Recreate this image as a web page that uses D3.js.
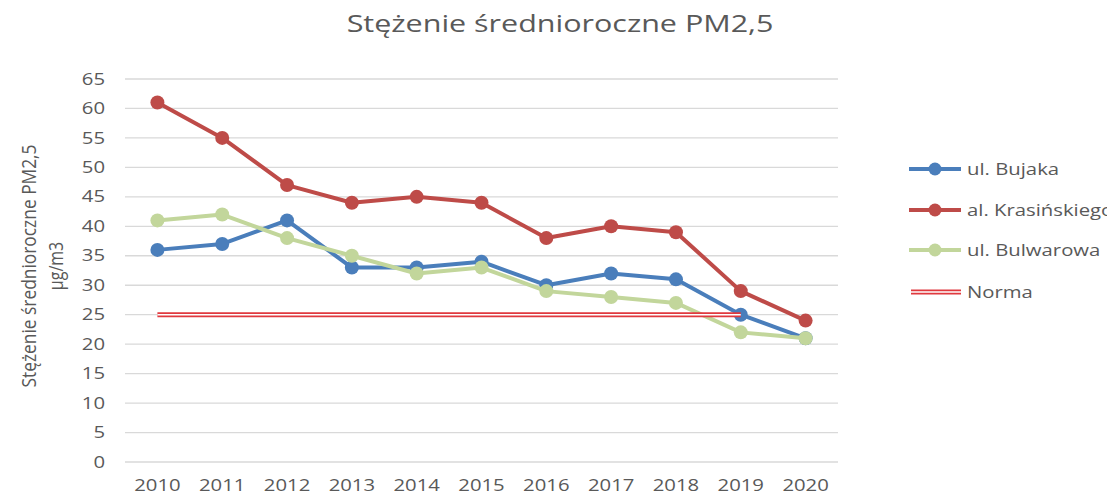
<!DOCTYPE html>
<html><head><meta charset="utf-8">
<script src="https://cdn.jsdelivr.net/npm/d3@7"></script>
<style>body{margin:0;background:#fff;overflow:hidden}</style>
</head><body>
<svg id="c" width="1107" height="493"></svg>
<script>
const years = ["2010","2011","2012","2013","2014","2015","2016","2017","2018","2019","2020"];
const bujaka = [36,37,41,33,33,34,30,32,31,25,21];
const krasinskiego = [61,55,47,44,45,44,38,40,39,29,24];
const bulwarowa = [41,42,38,35,32,33,29,28,27,22,21];
const norma = [25,25,25,25,25,25,25,25,25,25,null];
const yTicks = [0,5,10,15,20,25,30,35,40,45,50,55,60,65];
const seriesNames = ["ul. Bujaka","al. Krasińskiego","ul. Bulwarowa","Norma"];

const SX = 1.27; // horizontal stretch of the original text
const svg = d3.select("#c");
const txt = "#595959";
const x = d3.scaleBand().domain(years).range([125,838]);
const y = d3.scaleLinear().domain([0,65]).range([462,79]);
const cx = d => x(d) + x.bandwidth()/2;

// gridlines
svg.append("g").selectAll("line").data(yTicks).join("line")
  .attr("x1",125).attr("x2",838).attr("y1",d=>y(d)).attr("y2",d=>y(d))
  .attr("stroke","#d9d9d9").attr("stroke-width",1.3);

const yAxis = svg.append("g").attr("transform","translate(125,0)")
  .call(d3.axisLeft(y).tickValues(yTicks).tickSize(0).tickPadding(20));
yAxis.select(".domain").remove();
yAxis.selectAll("text").attr("fill",txt).style("font-family","Open Sans").style("font-size","16px")
  .attr("x",0).attr("transform",`translate(-20,0) scale(${SX},1)`);

const xAxis = svg.append("g").attr("transform","translate(0,462)")
  .call(d3.axisBottom(x).tickSize(0).tickPadding(18));
xAxis.select(".domain").remove();
xAxis.selectAll("text").attr("fill",txt).style("font-family","Open Sans").style("font-size","16px")
  .attr("transform",`scale(${SX},1)`);

const series = [
  {name:seriesNames[0], vals:bujaka, color:"#4A7EBB"},
  {name:seriesNames[1], vals:krasinskiego, color:"#BE4B48"},
  {name:seriesNames[2], vals:bulwarowa, color:"#C2D69B"}
];
const line = d3.line().defined(d=>d[1]!=null).x(d=>cx(d[0])).y(d=>y(d[1]));

series.forEach(s=>{
  const pts = years.map((yr,i)=>[yr,s.vals[i]]);
  svg.append("path").attr("d",line(pts)).attr("fill","none").attr("stroke",s.color).attr("stroke-width",4).attr("stroke-linejoin","round");
  svg.append("g").selectAll("circle").data(pts).join("circle")
    .attr("cx",d=>cx(d[0])).attr("cy",d=>y(d[1])).attr("r",7).attr("fill",s.color);
});

// Norma double line
const npts = years.map((yr,i)=>[yr,norma[i]]);
svg.append("path").attr("d",line(npts)).attr("fill","none").attr("stroke","#E0393E").attr("stroke-width",5);
svg.append("path").attr("d",line(npts)).attr("fill","none").attr("stroke","#fff").attr("stroke-width",1.4);

// title
svg.append("text").attr("transform",`translate(560,32) scale(${SX},1)`).attr("text-anchor","middle")
  .attr("fill",txt).style("font-family","Open Sans").style("font-size","24px").text("Stężenie średnioroczne PM2,5");

// y-axis title
svg.append("text").attr("transform",`translate(36,266) scale(${SX},1) rotate(-90)`).attr("text-anchor","middle")
  .attr("fill",txt).style("font-family","Open Sans").style("font-size","16px")
  .attr("textLength",243).attr("lengthAdjust","spacingAndGlyphs")
  .text("Stężenie średnioroczne PM2,5");
svg.append("text").attr("transform",`translate(63,266) scale(${SX},1) rotate(-90)`).attr("text-anchor","middle")
  .attr("fill",txt).style("font-family","Open Sans").style("font-size","16px")
  .text("µg/m3");

// legend
const legY = [169,210,250,292];
const leg = svg.append("g");
series.forEach((s,i)=>{
  leg.append("line").attr("x1",909).attr("x2",961).attr("y1",legY[i]).attr("y2",legY[i]).attr("stroke",s.color).attr("stroke-width",4);
  leg.append("circle").attr("cx",935).attr("cy",legY[i]).attr("r",6.5).attr("fill",s.color);
});
leg.append("line").attr("x1",911).attr("x2",961).attr("y1",legY[3]).attr("y2",legY[3]).attr("stroke","#E0393E").attr("stroke-width",5);
leg.append("line").attr("x1",911).attr("x2",961).attr("y1",legY[3]).attr("y2",legY[3]).attr("stroke","#fff").attr("stroke-width",1.4);
seriesNames.forEach((n,i)=>{
  leg.append("text").attr("transform",`translate(967,${legY[i]+6}) scale(${SX},1)`).attr("fill",txt)
    .style("font-family","Open Sans").style("font-size","16px").text(n);
});
</script>
</body></html>
